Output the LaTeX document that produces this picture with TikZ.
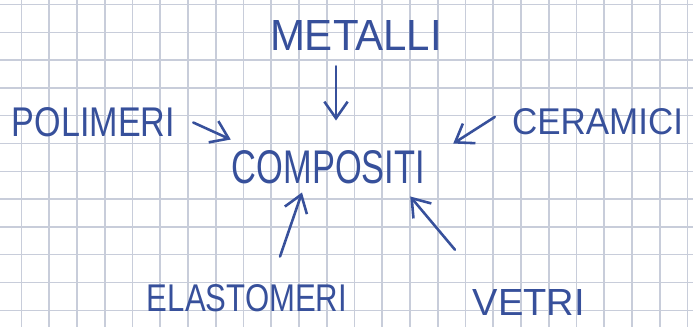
\documentclass[tikz,border=0pt]{standalone}
\usepackage{fontspec}
\usepackage{graphicx}
\setmainfont{Liberation Sans}
\usetikzlibrary{arrows.meta,calc}
\definecolor{ink}{RGB}{55,80,155}
\definecolor{squares}{RGB}{200,205,218}
\newlength\pxu \setlength\pxu{0.03cm}
% word stretched to a given box (units of \pxu)
\newcommand{\hand}[3]{\resizebox{#1\pxu}{#2\pxu}{#3}}
\tikzset{
  >={Straight Barb[length=5mm,width=7mm]},
  word/.style={inner sep=0pt,text=ink},
  pen/.style={->,draw=ink,line width=2.2pt,line cap=round,line join=round},
  gridline/.style={draw=squares,line width=1.3pt},
}

\begin{document}
\begin{tikzpicture}[x=0.03cm,y=-0.03cm]
  \useasboundingbox (0,0) rectangle (693,327);
  % squared paper
  \foreach \i in {0,...,24} \draw[gridline] ({21.5+27.75*\i},0) -- ({21.5+27.75*\i},327);
  \foreach \j in {0,...,11} \draw[gridline] (0,{4.5+27.8*\j}) -- (693,{4.5+27.8*\j});
  % words
  \node[word] (metalli) at (356,35) {\hand{172}{30}{METALLI}};
  \node[word] (polimeri) at (93.5,122.5) {\hand{163}{29}{POLIMERI}};
  \node[word] (compositi) at (328.5,167.5) {\hand{193}{33}{COMPOSITI}};
  \node[word] (ceramici) at (597.5,122) {\hand{171}{26}{CERAMICI}};
  \node[word] (elastomeri) at (247,298.5) {\hand{200}{27}{ELASTOMERI}};
  \node[word] (vetri) at (529,302) {\hand{112}{26}{VETRI}};
  % arrows into the middle
  \draw[pen] ($(metalli.south)+(-20,16)$) -- ($(compositi.north)+(7.5,-30)$);
  \draw[pen] ($(polimeri.east)+(18,0)$) -- ($(compositi.north west)+(-1,-11)$);
  \draw[pen] ($(ceramici.west)+(-17,-5)$) -- ($(compositi.north east)+(28,-7)$);
  \draw[pen] ($(elastomeri.north)+(33,-28)$) -- ($(compositi.south)+(-26.5,8)$);
  \draw[pen] ($(vetri.north)+(-74,-39)$) -- ($(compositi.south east)+(-15,12)$);
\end{tikzpicture}
\end{document}
